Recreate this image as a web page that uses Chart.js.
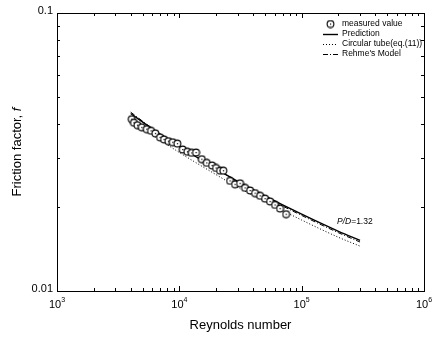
<!DOCTYPE html>
<html>
<head>
<meta charset="utf-8">
<script src="https://cdn.jsdelivr.net/npm/chart.js@4.4.0/dist/chart.umd.min.js"></script>
<style>
  html, body { margin: 0; padding: 0; background: #fff; }
  #wrap { width: 435px; height: 338px; }
</style>
</head>
<body>
<div id="wrap"><canvas id="chart" width="435" height="338"></canvas></div>
<script>
const reMeasured = [4080, 4260, 4540, 4930, 5410, 5870, 6370, 6950, 7500, 8130, 8830, 9630,
  10660, 11630, 12630, 13700, 15250, 16750, 18510, 19960, 21520, 22890, 25980, 28540,
  31360, 34450, 37860, 41590, 45700, 50200, 55150, 60590, 66570, 74560];
const fMeasured = [0.0415, 0.0403, 0.0395, 0.0388, 0.0382, 0.0377, 0.0369, 0.0357, 0.0351, 0.0346, 0.0343, 0.0339,
  0.0323, 0.0317, 0.0314, 0.0315, 0.0298, 0.0289, 0.0283, 0.0277, 0.0271, 0.0271, 0.0249, 0.0242,
  0.0244, 0.0235, 0.0230, 0.0225, 0.0220, 0.0215, 0.0210, 0.0204, 0.0198, 0.0189];

// curves
const reCurve = [4000, 6000, 10000, 20000, 30000, 50000, 100000, 200000, 300000];
const fPrediction = [0.0435, 0.0383, 0.0331, 0.0275, 0.0248, 0.0220, 0.0189, 0.0164, 0.0152];
const fCircular = [0.0414, 0.0365, 0.0315, 0.0262, 0.0236, 0.0210, 0.0180, 0.0156, 0.0145];
const fRehme = [0.0440, 0.0385, 0.0333, 0.0275, 0.0247, 0.0218, 0.0187, 0.0162, 0.0150];

// axis ticks
const xDecades = [1e3, 1e4, 1e5, 1e6];
const xExponents = ['3', '4', '5', '6'];
const yMajor = [0.01, 0.1];
const yMajorLabels = ['0.01', '0.1'];

const FONT = "'Liberation Sans', Arial, sans-serif";

// circle with a dot in the middle
function makeMarker() {
  const c = document.createElement('canvas');
  c.width = 9; c.height = 9;
  const g = c.getContext('2d');
  g.fillStyle = '#fff';
  g.strokeStyle = '#000';
  g.lineWidth = 1.1;
  g.beginPath();
  g.arc(4.5, 4.5, 3.4, 0, Math.PI * 2);
  g.fill();
  g.stroke();
  g.fillStyle = '#000';
  g.fillRect(4, 4, 1.2, 1.2);
  return c;
}
const marker = makeMarker();

function toPoints(xs, ys) {
  return xs.map((x, i) => ({ x: x, y: ys[i] }));
}

// frame, inward ticks, labels, titles, legend, note
const decorPlugin = {
  id: 'decor',
  afterDraw(chart) {
    const ctx = chart.ctx;
    const a = chart.chartArea;
    const xs = chart.scales.x;
    const ys = chart.scales.y;
    ctx.save();
    ctx.strokeStyle = '#000';
    ctx.lineWidth = 1;
    ctx.strokeRect(Math.round(a.left) + 0.5, Math.round(a.top) + 0.5,
      Math.round(a.right - a.left), Math.round(a.bottom - a.top));

    ctx.beginPath();
    // x ticks
    for (let d = 0; d < xDecades.length; d++) {
      for (let m = 1; m < 10; m++) {
        const v = xDecades[d] * m;
        if (v > 1e6) break;
        const px = Math.round(xs.getPixelForValue(v)) + 0.5;
        const len = m === 1 ? 5 : 3;
        ctx.moveTo(px, a.bottom); ctx.lineTo(px, a.bottom - len);
        ctx.moveTo(px, a.top); ctx.lineTo(px, a.top + len);
      }
    }
    // y ticks
    for (let m = 1; m <= 10; m++) {
      const v = 0.01 * m;
      const py = Math.round(ys.getPixelForValue(v)) + 0.5;
      const len = (m === 1 || m === 10) ? 5 : 3;
      ctx.moveTo(a.left, py); ctx.lineTo(a.left + len, py);
      ctx.moveTo(a.right, py); ctx.lineTo(a.right - len, py);
    }
    ctx.stroke();

    ctx.fillStyle = '#000';
    // x tick labels 10^n
    ctx.textBaseline = 'alphabetic';
    xDecades.forEach((v, i) => {
      const px = xs.getPixelForValue(v);
      ctx.font = '11px ' + FONT;
      const wb = ctx.measureText('10').width;
      ctx.font = '7px ' + FONT;
      const we = ctx.measureText(xExponents[i]).width;
      const x0 = px - (wb + we) / 2;
      ctx.font = '11px ' + FONT;
      ctx.textAlign = 'left';
      ctx.fillText('10', x0, a.bottom + 17);
      ctx.font = '7px ' + FONT;
      ctx.fillText(xExponents[i], x0 + wb, a.bottom + 11);
    });
    // y tick labels
    ctx.font = '11px ' + FONT;
    ctx.textAlign = 'right';
    ctx.textBaseline = 'middle';
    yMajor.forEach((v, i) => {
      ctx.fillText(yMajorLabels[i], a.left - 4, ys.getPixelForValue(v) - 2);
    });

    // axis titles
    ctx.font = '13px ' + FONT;
    ctx.textAlign = 'center';
    ctx.textBaseline = 'middle';
    ctx.fillText('Reynolds number', (a.left + a.right) / 2, 325);

    ctx.save();
    ctx.translate(17, (a.top + a.bottom) / 2);
    ctx.rotate(-Math.PI / 2);
    const t1 = 'Friction factor, ';
    ctx.font = '13px ' + FONT;
    const w1 = ctx.measureText(t1).width;
    ctx.font = 'italic 13px ' + FONT;
    const w2 = ctx.measureText('f').width;
    ctx.textAlign = 'left';
    ctx.font = '13px ' + FONT;
    ctx.fillText(t1, -(w1 + w2) / 2, 0);
    ctx.font = 'italic 13px ' + FONT;
    ctx.fillText('f', -(w1 + w2) / 2 + w1, 0);
    ctx.restore();

    // legend
    ctx.font = '8.5px ' + FONT;
    ctx.textAlign = 'left';
    ctx.textBaseline = 'middle';
    const lx0 = 323, lx1 = 338, tx = 342;
    chart.data.datasets.forEach((ds, i) => {
      const ly = 24 + i * 10;
      if (ds.showLine === false) {
        ctx.drawImage(marker, (lx0 + lx1) / 2 - 4.5, ly - 4.5);
      } else {
        ctx.save();
        ctx.strokeStyle = ds.borderColor;
        ctx.lineWidth = ds.borderWidth;
        ctx.setLineDash(ds.borderDash || []);
        ctx.beginPath();
        ctx.moveTo(lx0, ly + 0.5);
        ctx.lineTo(lx1, ly + 0.5);
        ctx.stroke();
        ctx.restore();
      }
      ctx.fillStyle = '#000';
      ctx.fillText(ds.label, tx, ly);
    });

    // P/D note
    ctx.font = 'italic 8.5px ' + FONT;
    const wp = ctx.measureText('P/D').width;
    ctx.fillText('P/D', 337, 222);
    ctx.font = '8.5px ' + FONT;
    ctx.fillText('=1.32', 337 + wp, 222);

    ctx.restore();
  }
};

new Chart(document.getElementById('chart'), {
  type: 'scatter',
  data: {
    datasets: [
      {
        label: 'measured value',
        data: toPoints(reMeasured, fMeasured),
        showLine: false,
        pointStyle: marker,
        borderColor: '#000',
        backgroundColor: '#fff',
        order: 0
      },
      {
        label: 'Prediction',
        data: toPoints(reCurve, fPrediction),
        showLine: true,
        borderColor: '#000',
        borderWidth: 1.4,
        pointRadius: 0,
        cubicInterpolationMode: 'monotone',
        order: 1
      },
      {
        label: 'Circular tube(eq.(11))',
        data: toPoints(reCurve, fCircular),
        showLine: true,
        borderColor: '#000',
        borderWidth: 1,
        borderDash: [1, 2],
        pointRadius: 0,
        cubicInterpolationMode: 'monotone',
        order: 2
      },
      {
        label: "Rehme's Model",
        data: toPoints(reCurve, fRehme),
        showLine: true,
        borderColor: '#000',
        borderWidth: 1,
        borderDash: [5, 2, 1, 2],
        pointRadius: 0,
        cubicInterpolationMode: 'monotone',
        order: 3
      }
    ]
  },
  options: {
    responsive: false,
    animation: false,
    devicePixelRatio: 1,
    layout: { padding: { left: 0, right: 11, top: 13, bottom: 0 } },
    plugins: {
      legend: { display: false },
      tooltip: { enabled: false }
    },
    scales: {
      x: {
        type: 'logarithmic',
        min: 1000,
        max: 1000000,
        grid: { display: false },
        border: { display: false },
        ticks: { display: false },
        afterFit(scale) { scale.height = 47; }
      },
      y: {
        type: 'logarithmic',
        min: 0.01,
        max: 0.1,
        grid: { display: false },
        border: { display: false },
        ticks: { display: false },
        afterFit(scale) { scale.width = 57; }
      }
    }
  },
  plugins: [decorPlugin]
});
</script>
</body>
</html>
